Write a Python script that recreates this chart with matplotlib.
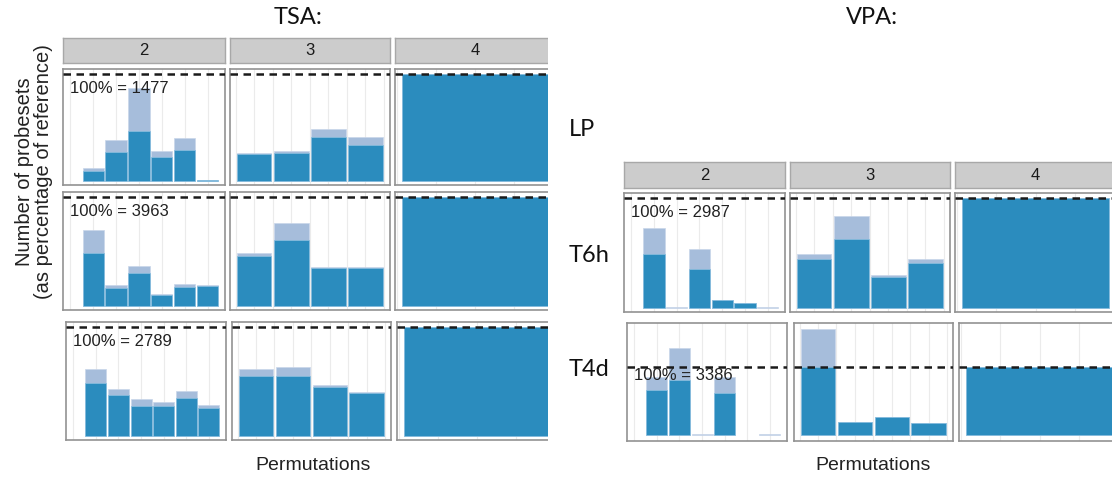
import matplotlib
matplotlib.use("Agg")
import matplotlib.pyplot as plt
from matplotlib.patches import Rectangle
import numpy as np

W, H = 1112, 479

DARK = "#2b8cbe"
LIGHT = "#a6bddb"

# reference set sizes (100% line of every row)
TSA_ROWS = ["LP", "T6h", "T4d"]
TSA_REF = [1477, 3963, 2789]
VPA_ROWS = ["T6h", "T4d"]
VPA_REF = [2987, 3386]

# fraction of reference per permutation: total (light) and retained (dark)
TSA_LP_2_TOTAL = [0.12, 0.38, 0.87, 0.28, 0.40, 0.01]
TSA_LP_2_KEPT = [0.09, 0.27, 0.47, 0.22, 0.29, 0.004]
TSA_LP_3_TOTAL = [0.26, 0.275, 0.49, 0.41]
TSA_LP_3_KEPT = [0.25, 0.26, 0.41, 0.34]

TSA_T6H_2_TOTAL = [0.70, 0.19, 0.37, 0.11, 0.20, 0.19]
TSA_T6H_2_KEPT = [0.49, 0.165, 0.30, 0.10, 0.175, 0.185]
TSA_T6H_3_TOTAL = [0.49, 0.76, 0.36, 0.36]
TSA_T6H_3_KEPT = [0.455, 0.61, 0.35, 0.35]

TSA_T4D_2_TOTAL = [0.62, 0.43, 0.34, 0.315, 0.41, 0.285]
TSA_T4D_2_KEPT = [0.49, 0.38, 0.27, 0.275, 0.35, 0.26]
TSA_T4D_3_TOTAL = [0.62, 0.63, 0.47, 0.40]
TSA_T4D_3_KEPT = [0.555, 0.555, 0.445, 0.39]

VPA_T6H_2_TOTAL = [0.73, 0.006, 0.54, 0.07, 0.045, 0.005]
VPA_T6H_2_KEPT = [0.495, 0.0, 0.35, 0.07, 0.043, 0.0]
VPA_T6H_3_TOTAL = [0.49, 0.84, 0.30, 0.45]
VPA_T6H_3_KEPT = [0.45, 0.625, 0.28, 0.41]

VPA_T4D_2_TOTAL = [0.85, 1.28, 0.015, 0.85, 0.0, 0.015]
VPA_T4D_2_KEPT = [0.655, 0.80, 0.0, 0.62, 0.0, 0.0]
VPA_T4D_3_TOTAL = [1.555, 0.19, 0.26, 0.17]
VPA_T4D_3_KEPT = [1.0, 0.19, 0.26, 0.17]

FULL_TOTAL = [1.0]
FULL_KEPT = [1.0]

SIZES = ["2", "3", "4"]

GG_FONT = ["Liberation Sans", "DejaVu Sans"]
OFFICE_FONT = ["Lato", "DejaVu Sans"]

fig = plt.figure(figsize=(W / 100, H / 100), dpi=100)


def rect(x0, y0, x1, y1):
    return [x0 / W, 1 - y1 / H, (x1 - x0) / W, (y1 - y0) / H]


XLIMS = [(-0.32, 6.76), (0.35, 4.66), (0.49, 1.51)]
GRIDS = [np.arange(0, 7, 1.0), np.arange(0.5, 4.6, 0.5), np.arange(0.5, 1.6, 0.25)]


def panel(box, k, total, kept, ylim, ref=None):
    ax = fig.add_axes(rect(*box))
    x = np.arange(1, len(total) + 1)
    for g in GRIDS[k]:
        ax.axvline(g, color="#ebebeb", lw=0.8, zorder=0)
    # zero-height bars get no outline
    tot_edge = ["#c9d6ea" if v > 0 else "none" for v in total]
    kep_edge = ["#8cc0e0" if v > 0 else "none" for v in kept]
    ax.bar(x, total, width=0.93, color=LIGHT, edgecolor=tot_edge, lw=0.5, zorder=2)
    ax.bar(x, kept, width=0.93, color=DARK, edgecolor=kep_edge, lw=0.5, zorder=3)
    ax.axhline(1.0, color="#1a1a1a", lw=1.8, ls=(0, (3, 2.2)), zorder=4)
    if ref is not None:
        ax.text(0.0, 0.87, f"100% = {ref}", ha="left", va="center",
                fontsize=12, color="#222222", family=GG_FONT, zorder=5)
    ax.set_xlim(*XLIMS[k])
    ax.set_ylim(*ylim)
    ax.set_xticks([])
    ax.set_yticks([])
    for s in ax.spines.values():
        s.set_color("#929292")
        s.set_linewidth(1.2)
    return ax


def strip(box, label):
    ax = fig.add_axes(rect(*box))
    ax.set_facecolor("#cccccc")
    ax.set_xticks([])
    ax.set_yticks([])
    for s in ax.spines.values():
        s.set_color("#a8a8a8")
        s.set_linewidth(1.0)
    ax.text(0.5, 0.5, label, ha="center", va="center", fontsize=12,
            color="#1a1a1a", family=GG_FONT, transform=ax.transAxes)


# ---- TSA grid ----
tsa_cols = [(63, 225), (230, 390), (395, 555)]
tsa_cols_last = [(66, 226), (232, 391), (397, 557)]
tsa_rows = [(69, 185), (192, 310), (322, 440)]
tsa_data = [
    [(TSA_LP_2_TOTAL, TSA_LP_2_KEPT), (TSA_LP_3_TOTAL, TSA_LP_3_KEPT), (FULL_TOTAL, FULL_KEPT)],
    [(TSA_T6H_2_TOTAL, TSA_T6H_2_KEPT), (TSA_T6H_3_TOTAL, TSA_T6H_3_KEPT), (FULL_TOTAL, FULL_KEPT)],
    [(TSA_T4D_2_TOTAL, TSA_T4D_2_KEPT), (TSA_T4D_3_TOTAL, TSA_T4D_3_KEPT), (FULL_TOTAL, FULL_KEPT)],
]
for j, (x0, x1) in enumerate(tsa_cols):
    strip((x0, 38, x1, 63), SIZES[j])
for i, (y0, y1) in enumerate(tsa_rows):
    cols = tsa_cols_last if i == 2 else tsa_cols
    for j, (x0, x1) in enumerate(cols):
        tot, kep = tsa_data[i][j]
        panel((x0, y0, x1, y1), j, tot, kep, (-0.04, 1.05),
              TSA_REF[i] if j == 0 else None)

# ---- VPA grid ----
vpa_cols = [(624, 785), (790, 950), (955, 1116)]
vpa_cols_last = [(627, 787), (794, 953), (959, 1120)]
vpa_rows = [(193, 312), (323, 441)]
vpa_data = [
    [(VPA_T6H_2_TOTAL, VPA_T6H_2_KEPT), (VPA_T6H_3_TOTAL, VPA_T6H_3_KEPT), (FULL_TOTAL, FULL_KEPT)],
    [(VPA_T4D_2_TOTAL, VPA_T4D_2_KEPT), (VPA_T4D_3_TOTAL, VPA_T4D_3_KEPT), (FULL_TOTAL, FULL_KEPT)],
]
vpa_ylims = [(-0.04, 1.05), (-0.09, 1.64)]
for j, (x0, x1) in enumerate(vpa_cols):
    strip((x0, 162, x1, 188), SIZES[j])
for i, (y0, y1) in enumerate(vpa_rows):
    cols = vpa_cols_last if i == 1 else vpa_cols
    for j, (x0, x1) in enumerate(cols):
        tot, kep = vpa_data[i][j]
        panel((x0, y0, x1, y1), j, tot, kep, vpa_ylims[i],
              VPA_REF[i] if j == 0 else None)

# the TSA grid is cropped on its right side
fig.add_artist(Rectangle((548 / W, 0), 14 / W, 1, transform=fig.transFigure,
                         facecolor="white", edgecolor="none", zorder=10))

# titles, row labels and axis labels
fig.text(298 / W, 1 - 18 / H, "TSA:", ha="center", va="center", fontsize=17,
         family=OFFICE_FONT, color="#111111")
fig.text(872 / W, 1 - 18 / H, "VPA:", ha="center", va="center", fontsize=17,
         family=OFFICE_FONT, color="#111111")
for lab, yc in zip(["LP", "T6h", "T4d"], [130, 255, 370]):
    fig.text(569 / W, 1 - yc / H, lab, ha="left", va="center", fontsize=17,
             family=OFFICE_FONT, color="#111111")

fig.text(313 / W, 1 - 466 / H, "Permutations", ha="center", va="center",
         fontsize=14, family=GG_FONT, color="#222222")
fig.text(873 / W, 1 - 466 / H, "Permutations", ha="center", va="center",
         fontsize=14, family=GG_FONT, color="#222222")
fig.text(34 / W, 1 - 172 / H, "Number of probesets\n(as percentage of reference)",
         ha="center", va="center", rotation=90, fontsize=14.5, family=GG_FONT,
         color="#222222", linespacing=1.0)

fig.savefig("out.png", dpi=100)
